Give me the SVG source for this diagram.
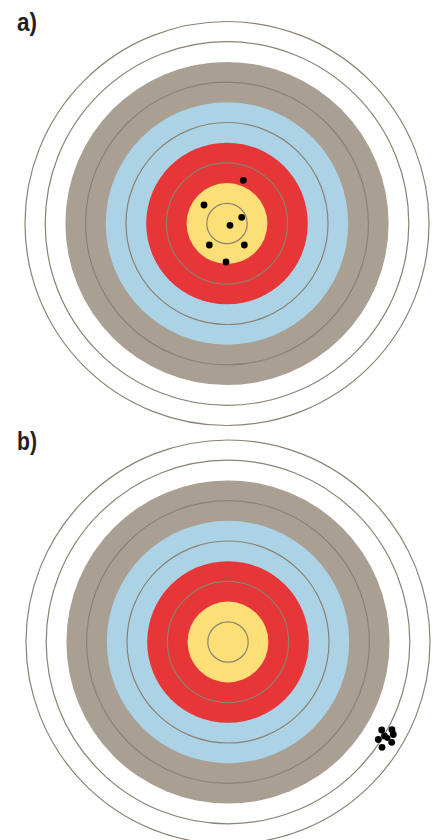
<svg xmlns="http://www.w3.org/2000/svg" xmlns:xlink="http://www.w3.org/1999/xlink" width="435" height="840" viewBox="0 0 435 840">
  <style>
    .lbl { font-family: "Liberation Sans Narrow", "Liberation Sans", Arial, sans-serif; font-weight: bold; font-size: 25px; fill: #231f20; }
    .ln { stroke: #8c8271; stroke-width: 1.2; }
    .wh { fill: #ffffff; }
    .gr { fill: #a99f93; }
    .bl { fill: #acd2e6; }
    .rd { fill: #e63637; }
    .ye { fill: #fddf77; }
    .dot { fill: #000000; }
  </style>
  <defs>
    <g id="target">
      <circle r="202" class="wh ln"/>
      <circle r="181.8" class="wh ln"/>
      <circle r="161.6" class="gr"/>
      <circle r="141.4" class="gr ln"/>
      <circle r="121.2" class="bl"/>
      <circle r="101" class="bl ln"/>
      <circle r="80.8" class="rd"/>
      <circle r="60.6" class="rd ln"/>
      <circle r="40.4" class="ye"/>
      <circle r="20.2" class="ye ln"/>
    </g>
  </defs>
  <rect width="435" height="840" fill="#ffffff"/>

  <g id="target-a">
    <text class="lbl" x="17" y="31" textLength="20" lengthAdjust="spacingAndGlyphs">a)</text>
    <use xlink:href="#target" href="#target" transform="translate(227 223.5)"/>
    <g id="hits-a" class="dot">
      <circle cx="243.3" cy="180.3" r="3.4"/>
      <circle cx="204" cy="205" r="3.4"/>
      <circle cx="241.7" cy="217.3" r="3.4"/>
      <circle cx="230" cy="225.3" r="3.4"/>
      <circle cx="209.3" cy="245" r="3.4"/>
      <circle cx="244.3" cy="245" r="3.4"/>
      <circle cx="226" cy="262" r="3.4"/>
    </g>
  </g>

  <g id="target-b">
    <text class="lbl" x="17" y="450" textLength="20" lengthAdjust="spacingAndGlyphs">b)</text>
    <use xlink:href="#target" href="#target" transform="translate(228 642)"/>
    <g id="hits-b" class="dot">
      <circle cx="381.7" cy="730" r="3.4"/>
      <circle cx="392" cy="729.7" r="3.4"/>
      <circle cx="384.5" cy="736" r="3.4"/>
      <circle cx="393.3" cy="734.5" r="3.4"/>
      <circle cx="378.3" cy="739.5" r="3.4"/>
      <circle cx="387.5" cy="738" r="3"/>
      <circle cx="391.7" cy="742.3" r="3.4"/>
      <circle cx="382" cy="747.3" r="3.4"/>
    </g>
  </g>
</svg>
